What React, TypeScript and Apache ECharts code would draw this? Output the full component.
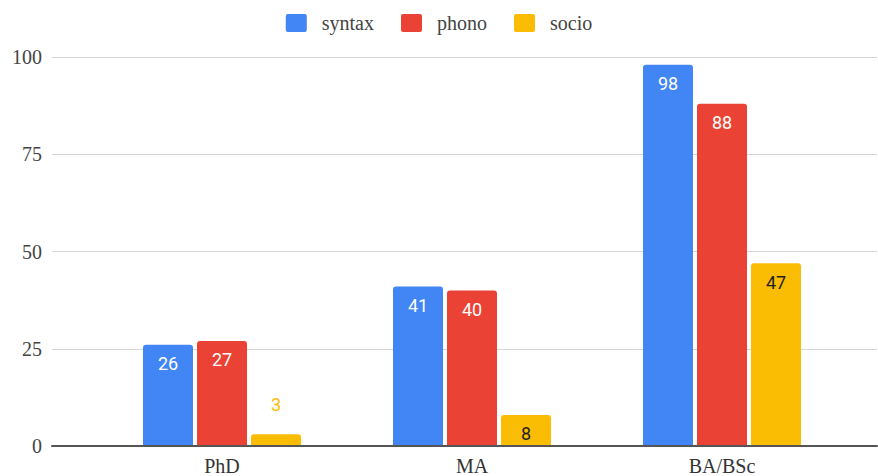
import React, { useEffect, useRef } from "react";
import * as echarts from "echarts";

const categories = ["PhD", "MA", "BA/BSc"];
const seriesNames = ["syntax", "phono", "socio"];
const syntaxValues = [26, 41, 98];
const phonoValues = [27, 40, 88];
const socioValues = [3, 8, 47];
const colors = ["#4285f4", "#ea4335", "#fbbc04"];
const insideLabelColors = ["#ffffff", "#ffffff", "#1f1f1f"];
const yTicks = { min: 0, max: 100, interval: 25 };

const serif = "Liberation Serif";
const sans = "Roboto";
const legendIcon =
  "path://M2,0 H19 A2,2 0 0 1 21,2 V16 A2,2 0 0 1 19,18 H2 A2,2 0 0 1 0,16 V2 A2,2 0 0 1 2,0 Z";

function buildData(values: number[], idx: number) {
  return values.map((v) => {
    if (v < 5) {
      return {
        value: v,
        label: { position: "top", distance: 21, color: colors[idx] },
      };
    }
    return { value: v };
  });
}

export default function App() {
  const ref = useRef<HTMLDivElement>(null);
  useEffect(() => {
    if (!ref.current) return;
    const chart = echarts.init(ref.current, null, { renderer: "svg" });
    const allValues = [syntaxValues, phonoValues, socioValues];
    chart.setOption({
      animation: false,
      backgroundColor: "#ffffff",
      legend: {
        top: 8,
        left: "center",
        icon: legendIcon,
        itemWidth: 21,
        itemHeight: 18,
        itemGap: 27,
        textStyle: {
          fontFamily: serif,
          fontSize: 20,
          color: "#444",
          padding: [0, 0, 0, 10],
        },
        data: seriesNames,
      },
      grid: [
        { left: 52, right: 1, top: 57, bottom: 30 },
        { left: 97, right: 31, top: 57, bottom: 30 },
      ],
      xAxis: [
        {
          type: "category",
          gridIndex: 0,
          data: categories,
          axisLine: { show: true, lineStyle: { color: "#555", width: 2 } },
          axisTick: { show: false },
          axisLabel: { show: false },
          z: 5,
        },
        {
          type: "category",
          gridIndex: 1,
          data: categories,
          axisLine: { show: false },
          axisTick: { show: false },
          axisLabel: {
            fontFamily: serif,
            fontSize: 20,
            color: "#333",
            margin: 10,
          },
        },
      ],
      yAxis: [
        {
          type: "value",
          gridIndex: 0,
          min: yTicks.min,
          max: yTicks.max,
          interval: yTicks.interval,
          axisLine: { show: false },
          axisTick: { show: false },
          axisLabel: {
            fontFamily: serif,
            fontSize: 20,
            color: "#444",
            margin: 10,
          },
          splitLine: { lineStyle: { color: "#d6d6d6", width: 1 } },
        },
        {
          type: "value",
          gridIndex: 1,
          min: yTicks.min,
          max: yTicks.max,
          interval: yTicks.interval,
          show: false,
          splitLine: { show: false },
        },
      ],
      series: allValues.map((vals, i) => ({
        name: seriesNames[i],
        type: "bar",
        xAxisIndex: 1,
        yAxisIndex: 1,
        barWidth: 50,
        barGap: "8%",
        itemStyle: { color: colors[i], borderRadius: [3, 3, 0, 0] },
        label: {
          show: true,
          position: "insideTop",
          distance: 10,
          fontFamily: sans,
          fontSize: 18,
          color: insideLabelColors[i],
        },
        data: buildData(vals, i),
      })),
    });
    return () => chart.dispose();
  }, []);
  return (
    <div
      ref={ref}
      style={{ position: "fixed", left: 0, top: 0, width: 878, height: 476 }}
    />
  );
}
